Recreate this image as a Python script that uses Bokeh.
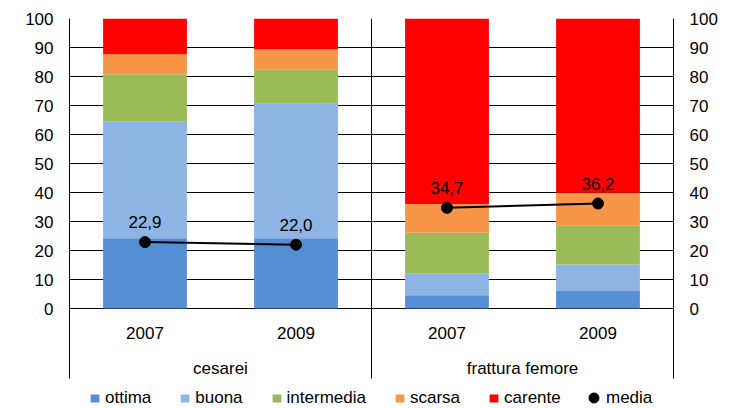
from bokeh.plotting import figure
from bokeh.models import (FactorRange, Range1d, FixedTicker, LinearAxis, Legend,
                          LegendItem, ColumnDataSource)
from bokeh.core.properties import value
from bokeh.embed import file_html
from bokeh.resources import INLINE

# ---- data ----
groups = ["cesarei", "cesarei", "frattura femore", "frattura femore"]
years = ["2007", "2009", "2007", "2009"]
levels = ["ottima", "buona", "intermedia", "scarsa", "carente"]
ottima = [24.2, 24.2, 4.6, 6.0]
buona = [40.2, 46.4, 7.4, 9.2]
intermedia = [16.4, 11.9, 14.1, 13.5]
scarsa = [6.9, 6.9, 9.9, 11.2]
carente = [12.3, 10.6, 64.0, 60.1]
media = [22.9, 22.0, 34.7, 36.2]
media_labels = ["22,9", "22,0", "34,7", "36,2"]
y_ticks = list(range(0, 101, 10))
colors = ["#558ED5", "#8EB4E3", "#9BBB59", "#F79646", "#FF0000"]

FONT = "Liberation Sans"
FS = "17px"
# layout: value 100 at top of frame, 2.9 px per unit; category band and legend below 0
Y_MAX = 100
CAT_BAND = -24.14   # bottom of category-label band (in y units)
Y_MIN = -34.48      # bottom of frame (legend strip)

x = list(zip(groups, years))
unique_groups = list(dict.fromkeys(groups))
bounds = [0]
for g in unique_groups:
    bounds.append(bounds[-1] + groups.count(g))

source = ColumnDataSource(dict(x=x, ottima=ottima, buona=buona, intermedia=intermedia,
                               scarsa=scarsa, carente=carente, media=media,
                               media_label=media_labels, year=years))

p = figure(width=738, height=408,
           x_range=FactorRange(*x, factor_padding=0, group_padding=0, range_padding=0),
           y_range=Range1d(Y_MIN, Y_MAX),
           x_axis_location=None, y_axis_location="left",
           output_backend="svg", toolbar_location=None,
           min_border_left=69, min_border_right=65, min_border_top=18, min_border_bottom=0)
p.outline_line_color = None
p.background_fill_color = "white"

# y axes (their axis lines form the outer borders, down to the category band)
p.yaxis.ticker = FixedTicker(ticks=y_ticks)
p.yaxis.bounds = (CAT_BAND, Y_MAX)
p.yaxis.axis_line_color = "black"
p.yaxis.major_tick_out = 0
p.yaxis.major_tick_in = 0
p.yaxis.minor_tick_line_color = None
p.yaxis.major_label_text_font = FONT
p.yaxis.major_label_text_font_size = FS
p.yaxis.major_label_text_color = "black"
p.yaxis.major_label_standoff = 16

right = LinearAxis(ticker=FixedTicker(ticks=y_ticks), bounds=(CAT_BAND, Y_MAX),
                   axis_line_color="black",
                   major_tick_out=0, major_tick_in=0, minor_tick_line_color=None,
                   major_label_text_font=FONT, major_label_text_font_size=FS,
                   major_label_text_color="black", major_label_standoff=16)
p.add_layout(right, "right")

# grids
p.ygrid.ticker = FixedTicker(ticks=y_ticks)
p.ygrid.grid_line_color = "black"
p.ygrid.grid_line_width = 1
p.xgrid.visible = False

# group separators (interior)
inner = bounds[1:-1]
p.segment(x0=inner, y0=[CAT_BAND] * len(inner), x1=inner, y1=[Y_MAX] * len(inner),
          line_color="black", line_width=1)

# bars
bar_renderers = p.vbar_stack(levels, x="x", width=0.555, fill_color=colors,
                             line_color=None, source=source)

# media line (per group)
for g in unique_groups:
    idx = [i for i, gg in enumerate(groups) if gg == g]
    p.line(x=[x[i] for i in idx], y=[media[i] for i in idx], line_color="black", line_width=2)
media_r = p.scatter(x="x", y="media", size=11, fill_color="black", line_color="black", source=source)

p.text(x="x", y="media", text="media_label", source=source, text_align="center",
       text_baseline="middle", y_offset=-20, text_font=value(FONT), text_font_size=FS,
       text_color="black")

# category labels
p.text(x="x", y=0, text="year", source=source, text_align="center", text_baseline="middle",
       y_offset=24, text_font=value(FONT), text_font_size=FS, text_color="black")
gsrc = ColumnDataSource(dict(g=unique_groups))
p.text(x="g", y=0, text="g", source=gsrc, text_align="center", text_baseline="middle",
       y_offset=60, text_font=value(FONT), text_font_size=FS, text_color="black")

# legends
leg1 = Legend(items=[LegendItem(label=l, renderers=[r]) for l, r in zip(levels, bar_renderers)],
              location=(20, 0), orientation="horizontal", glyph_width=11, glyph_height=10,
              label_height=10, label_standoff=5, spacing=28, padding=0, margin=0,
              border_line_color=None, background_fill_alpha=0,
              label_text_font=FONT, label_text_font_size=FS, label_text_color="black")
leg2 = Legend(items=[LegendItem(label="media", renderers=[media_r])],
              location=(512, -2), orientation="horizontal", glyph_width=25, glyph_height=25,
              label_height=10, label_standoff=0, padding=0, margin=0,
              border_line_color=None, background_fill_alpha=0,
              label_text_font=FONT, label_text_font_size=FS, label_text_color="black")
p.add_layout(leg1)
p.add_layout(leg2)

open("out.html", "w").write(file_html(p, INLINE))
